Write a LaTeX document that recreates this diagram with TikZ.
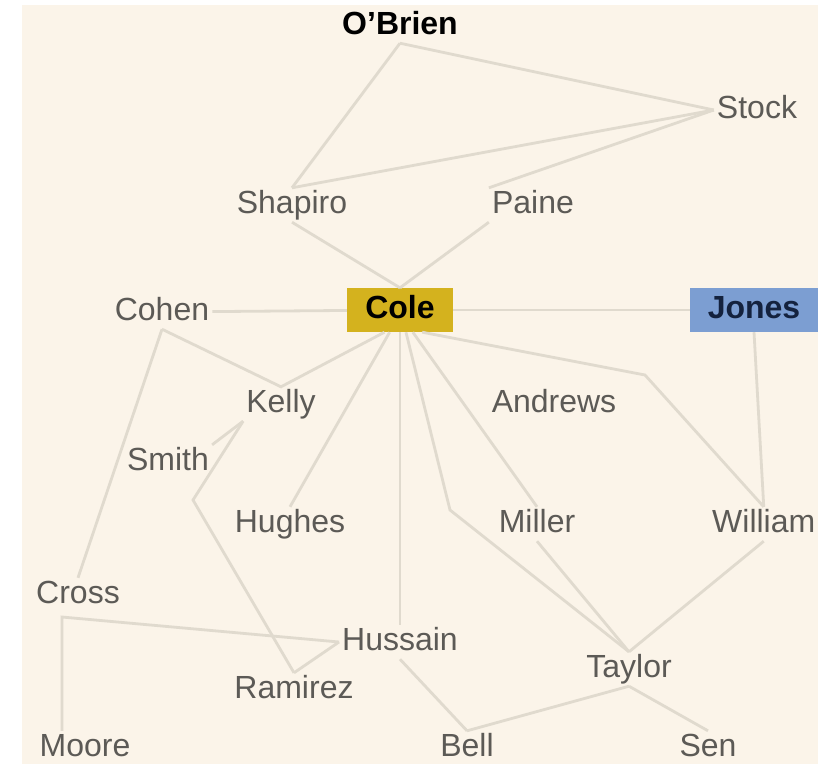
\documentclass[tikz,border=0pt]{standalone}
\usepackage{fontspec}
\setmainfont{Liberation Sans}
\definecolor{paper}{RGB}{251,244,233}
\definecolor{tiegray}{RGB}{224,218,206}
\definecolor{namegray}{RGB}{92,90,86}
\definecolor{colegold}{RGB}{212,178,30}
\definecolor{jonesblue}{RGB}{124,158,210}
\definecolor{jonesink}{RGB}{20,34,62}

\begin{document}
\begin{tikzpicture}[x=1pt,y=-1pt,
	person/.style={text=namegray,inner sep=3pt,text height=22pt,text depth=6pt,font=\fontsize{32}{36}\selectfont},
	chief/.style={person,text=black,font=\fontsize{32}{36}\selectfont\bfseries},
	tie/.style={draw=tiegray,line width=2.8pt}]
	\useasboundingbox (0,0) rectangle (818,764);
	\fill[white] (0,0) rectangle (818,764);
	\fill[paper] (22,5) rectangle (818,764);
	% people
	\node[chief] (obrien) at (400,26) {O'Brien};
	\node[person] (stock) at (757,110) {Stock};
	\node[person] (shapiro) at (292,205) {Shapiro};
	\node[person] (paine) at (533,205) {Paine};
	\node[person] (cohen) at (162,312) {Cohen};
	\node[chief,fill=colegold,inner sep=0pt,minimum width=106pt,minimum height=44pt] (cole) at (400,310) {Cole};
	\node[chief,text=jonesink,fill=jonesblue,inner sep=0pt,minimum width=128pt,minimum height=44pt] (jones) at (754,310) {Jones};
	\node[person] (kelly) at (281,404) {Kelly};
	\node[person] (andrews) at (554,404) {Andrews};
	\node[person] (smith) at (168,462) {Smith};
	\node[person] (hughes) at (290,524) {Hughes};
	\node[person] (miller) at (537,524) {Miller};
	\node[person,anchor=west] (william) at (709,524) {William};
	\node[person] (cross) at (78,595) {Cross};
	\node[person] (hussain) at (400,642) {Hussain};
	\node[person] (taylor) at (629,669) {Taylor};
	\node[person] (ramirez) at (294,690) {Ramirez};
	\node[person] (moore) at (85,748) {Moore};
	\node[person] (bell) at (467,748) {Bell};
	\node[person] (sen) at (708,748) {Sen};
	% bends
	\coordinate (kbend) at (193,500);
	\coordinate (tbend) at (450,510);
	\coordinate (wbend) at (645,375);
	\coordinate (crossport) at (62,617);
	% ties
	\draw[tie] (obrien.south) -- (stock.west);
	\draw[tie] (obrien.south) -- (shapiro.north);
	\draw[tie] (shapiro.north) -- (stock.west);
	\draw[tie] (paine.north west) -- (stock.west);
	\draw[tie] (shapiro.south) -- (cole.north);
	\draw[tie] (paine.south west) -- (cole.north);
	\draw[tie] (cohen) -- (cole);
	\draw[tie] (cole) -- (jones);
	\draw[tie] (cohen.south) -- (kelly.north) -- (cole.235);
	\draw[tie] (cohen.south) -- (cross.north);
	\draw[tie] (smith.north east) -- (kelly.south west);
	\draw[tie] (kelly.south west) -- (kbend) -- (ramirez.north);
	\draw[tie] (cole.245) -- (hughes.north);
	\draw[tie] (cole.south) -- (hussain.north);
	\draw[tie] (cole.285) -- (tbend) -- (taylor.north);
	\draw[tie] (cole.300) -- (miller.north);
	\draw[tie] (miller.south) -- (taylor.north);
	\draw[tie] (cole.315) -- (wbend) -- (william.north);
	\draw[tie] (jones.south) -- (william.north);
	\draw[tie] (william.south) -- (taylor.north);
	\draw[tie] (taylor.south) -- (bell.north);
	\draw[tie] (taylor.south) -- (sen.north);
	\draw[tie] (hussain.south) -- (bell.north);
	\draw[tie] (hussain.west) -- (ramirez.north);
	\draw[tie] (moore.north -| crossport) -- (crossport) -- (hussain.west);
\end{tikzpicture}
\end{document}
